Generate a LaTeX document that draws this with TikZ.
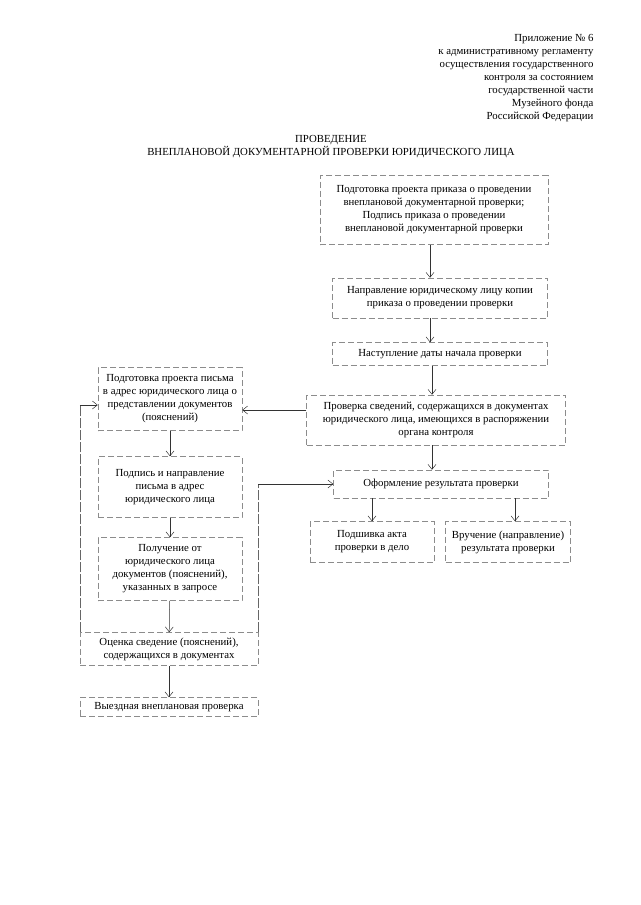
\documentclass[tikz,border=0pt]{standalone}
\usepackage{fontspec}
\setmainfont{Liberation Serif}
\usetikzlibrary{arrows.meta}
\tikzset{
  box/.style={draw=black!45, dashed, dash pattern=on 6pt off 3pt, line width=0.5pt,
    inner sep=0pt, align=center, font=\fontsize{10.8}{13}\selectfont},
  arr/.style={-{Straight Barb[length=5pt,width=8pt]}, line width=0.5pt, black!80},
  link/.style={line width=0.5pt, black!60, dash pattern=on 10pt off 2pt}
}
\begin{document}
\begin{tikzpicture}[x=1pt, y=-1pt]
    \useasboundingbox (0, 0) rectangle (640, 905);
    \node[align=right, anchor=north east, font=\fontsize{10.8}{13}\selectfont] (head) at (597, 31)
      {Приложение № 6\\к административному регламенту\\осуществления государственного\\контроля за состоянием\\государственной части\\Музейного фонда\\Российской Федерации};
    \node[align=center, font=\fontsize{10.8}{13}\selectfont] (title) at (331, 147)
      {ПРОВЕДЕНИЕ\\ВНЕПЛАНОВОЙ ДОКУМЕНТАРНОЙ ПРОВЕРКИ ЮРИДИЧЕСКОГО ЛИЦА};
    % right column
    \node[box, minimum width=228, minimum height=69] (s1) at (434, 210)
      {Подготовка проекта приказа о проведении\\внеплановой документарной проверки;\\Подпись приказа о проведении\\внеплановой документарной проверки};
    \node[box, minimum width=215, minimum height=40] (s2) at (440, 298)
      {Направление юридическому лицу копии\\приказа о проведении проверки};
    \node[box, minimum width=215, minimum height=23] (s3) at (440, 354) {Наступление даты начала проверки};
    \node[box, minimum width=259, minimum height=50] (s4) at (436, 420)
      {Проверка сведений, содержащихся в документах\\юридического лица, имеющихся в распоряжении\\органа контроля};
    \node[box, minimum width=215, minimum height=28] (s5) at (441, 484) {Оформление результата проверки};
    \node[box, minimum width=124, minimum height=41] (s6) at (372, 542) {Подшивка акта\\проверки в дело};
    \node[box, minimum width=125, minimum height=41] (s7) at (508, 542) {Вручение (направление)\\результата проверки};
    % left column
    \node[box, minimum width=144, minimum height=63] (l1) at (170, 399)
      {Подготовка проекта письма\\в адрес юридического лица о\\представлении документов\\(пояснений)};
    \node[box, minimum width=144, minimum height=61] (l2) at (170, 487)
      {Подпись и направление\\письма в адрес\\юридического лица};
    \node[box, minimum width=144, minimum height=63] (l3) at (170, 569)
      {Получение от\\юридического лица\\документов (пояснений),\\указанных в запросе};
    \node[box, minimum width=178, minimum height=33] (l4) at (169, 649)
      {Оценка сведение (пояснений),\\содержащихся в документах};
    \node[box, minimum width=178, minimum height=19] (l5) at (169, 707) {Выездная внеплановая проверка};
    \draw[arr] (s1.south -| 430, 0) -- (s2.north -| 430, 0);
    \draw[arr] (s2.south -| 430, 0) -- (s3.north -| 430, 0);
    \draw[arr] (s3.south -| 432, 0) -- (s4.north -| 432, 0);
    \draw[arr] (s4.south -| 432, 0) -- (s5.north -| 432, 0);
    \draw[arr] (s5.south -| s6) -- (s6.north);
    \draw[arr] (s5.south -| 515, 0) -- (s7.north -| 515, 0);
    \draw[arr] (s4.west |- 0, 410) -- (l1.east |- 0, 410);
    \draw[arr] (l1) -- (l2);
    \draw[arr] (l2) -- (l3);
    \draw[arr] (l3) -- (l4);
    \draw[arr] (l4) -- (l5);
    \draw[link] (l4.north west) -- (l4.north west |- 0, 405);
    \draw[arr] (l4.north west |- 0, 405) -- (l1.west |- 0, 405);
    \draw[link] (l4.north east) -- (l4.north east |- s5);
    \draw[arr] (l4.north east |- s5) -- (s5.west);
\end{tikzpicture}
\end{document}
